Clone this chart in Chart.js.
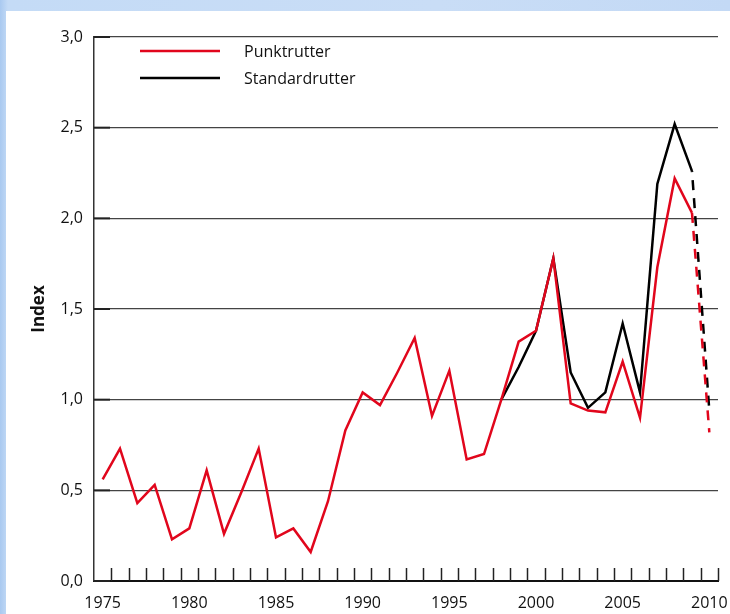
<!DOCTYPE html>
<html>
<head>
<meta charset="utf-8">
<script src="https://cdn.jsdelivr.net/npm/chart.js@4"></script>
<style>
  html, body { margin: 0; padding: 0; }
  body {
    width: 730px; height: 614px; overflow: hidden;
    background: linear-gradient(to right, #a9c9f0 0px, #c4dbf6 8px, #c9ddf6 60%, #c3d9f5 100%);
    position: relative;
  }
  #panel {
    position: absolute; left: 6px; top: 11px; width: 724px; height: 603px;
    background: #fff;
  }
</style>
</head>
<body>
<div id="panel"><canvas id="indexChart" width="724" height="603"></canvas></div>
<script>
'use strict'
const years = [];
for (let y = 1975; y <= 2010; y++) years.push(y);

// Punktrutter 1975-2010
const punktrutter = [0.56, 0.73, 0.43, 0.53, 0.23, 0.29, 0.61, 0.26, 0.49, 0.73,
  0.24, 0.29, 0.16, 0.44, 0.83, 1.04, 0.97, 1.15, 1.34, 0.91,
  1.16, 0.67, 0.70, 1.00, 1.32, 1.38, 1.78, 0.98, 0.94, 0.93,
  1.21, 0.90, 1.73, 2.22, 2.03, 0.82];

// Standardrutter, only from 1998
const standardrutter = [null, null, null, null, null, null, null, null, null, null,
  null, null, null, null, null, null, null, null, null, null,
  null, null, null, 1.00, 1.18, 1.38, 1.78, 1.15, 0.955, 1.04,
  1.42, 1.04, 2.19, 2.52, 2.26, 0.94];

const yTicks = [0, 0.5, 1, 1.5, 2, 2.5, 3];

const red = '#e1061c';
const fontFam = '"Open Sans", "Noto Sans", sans-serif';

const lastDash = (dash, off) => ({
  borderDash: ctx => ctx.p1DataIndex === years.length - 1 ? dash : undefined,
  borderDashOffset: ctx => ctx.p1DataIndex === years.length - 1 ? off : 0,
});

// tick marks pointing into the plot + small stubs on the y axis + legend
const decor = {
  id: 'decor',
  afterDatasetsDraw(chart) {
    const c = chart.ctx;
    const xs = chart.scales.x, ys = chart.scales.y;
    const area = chart.chartArea;
    c.save();
    c.strokeStyle = '#222';
    c.lineWidth = 1.5;
    for (let i = 0; i < years.length; i++) {
      const px = Math.round(xs.getPixelForValue(i + 0.5)) + 0.5;
      c.beginPath();
      c.moveTo(px, area.bottom);
      c.lineTo(px, area.bottom - 13);
      c.stroke();
    }
    c.lineWidth = 2;
    yTicks.forEach(v => {
      const py = ys.getPixelForValue(v);
      c.beginPath();
      c.moveTo(area.left, py);
      c.lineTo(area.left + 16, py);
      c.stroke();
    });
    // legend
    const lx = area.left + 46, ly = area.top + 14;
    chart.data.datasets.forEach((ds, i) => {
      const yy = ly + i * 27;
      c.strokeStyle = ds.borderColor;
      c.lineWidth = 2.5;
      c.beginPath();
      c.moveTo(lx, yy);
      c.lineTo(lx + 80, yy);
      c.stroke();
      c.fillStyle = '#111';
      c.font = '16px ' + fontFam;
      c.textBaseline = 'middle';
      c.fillText(ds.label, lx + 104, yy + 1);
    });
    c.restore();
  }
};

const ctx = document.getElementById('indexChart').getContext('2d');
const myChart = new Chart(ctx, {
  type: 'line',
  data: {
    labels: years,
    datasets: [{
      label: 'Punktrutter',
      data: punktrutter,
      borderColor: red,
      borderWidth: 2.5,
      pointRadius: 0,
      segment: lastDash([10, 8], 0),
    }, {
      label: 'Standardrutter',
      data: standardrutter,
      borderColor: '#000',
      borderWidth: 2.5,
      pointRadius: 0,
      segment: lastDash([10, 8], 9),
    }],
  },
  options: {
    responsive: false,
    animation: false,
    layout: { padding: { top: 26, right: 12, bottom: 0, left: 0 } },
    plugins: {
      legend: { display: false },
      tooltip: { enabled: false },
    },
    scales: {
      x: {
        type: 'category',
        offset: true,
        grid: { display: false, drawTicks: false },
        border: { display: true, color: '#111', width: 2 },
        ticks: {
          autoSkip: false,
          maxRotation: 0,
          padding: 13,
          color: '#111',
          font: { family: fontFam, size: 16 },
          callback: (v, i) => years[i] % 5 === 0 ? String(years[i]) : '',
        },
        afterFit: s => { s.height = 33; s.paddingRight = 0; s.paddingLeft = 0; },
      },
      y: {
        min: 0,
        max: 3,
        afterBuildTicks: s => { s.ticks = yTicks.map(v => ({ value: v })); },
        grid: { color: '#444', lineWidth: 1.2, drawTicks: false },
        border: { display: true, color: '#333', width: 1.5 },
        ticks: {
          padding: 11,
          color: '#111',
          font: { family: fontFam, size: 16 },
          callback: v => v.toFixed(1).replace('.', ','),
        },
        title: {
          display: true,
          text: 'Index',
          color: '#111',
          font: { family: fontFam, size: 17, weight: 'bold' },
          padding: { top: 23, bottom: 0 },
        },
        afterFit: s => { s.width = 88; },
      },
    },
  },
  plugins: [decor],
});
myChart;
</script>
</body>
</html>
